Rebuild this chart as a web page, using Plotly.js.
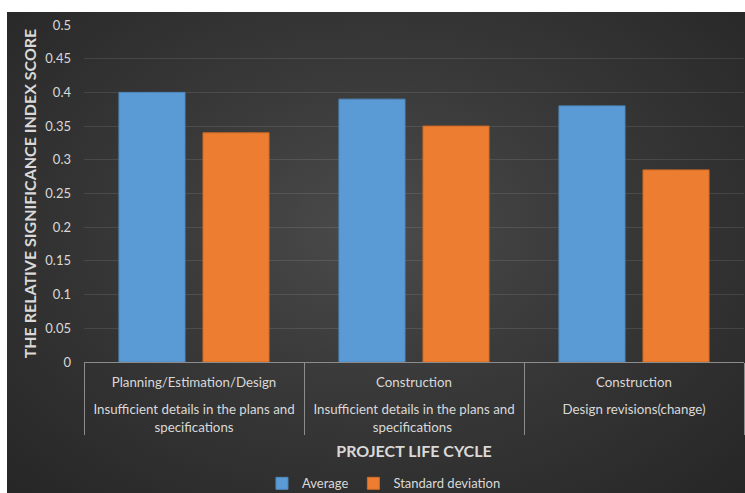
<!DOCTYPE html>
<html>
<head>
<meta charset="utf-8">
<script src="https://cdn.plot.ly/plotly-3.0.1.min.js"></script>
<style>
  html, body { margin: 0; padding: 0; background: #ffffff; width: 745px; height: 493px; overflow: hidden; }
  #chart {
    position: absolute; left: 7px; top: 12px; width: 738px; height: 481px;
    background: radial-gradient(ellipse at 50% 45%, #4b4b4b 0%, #3a3a3a 40%, #262626 100%);
  }
</style>
</head>
<body>
<div id="chart"></div>
<script>
// Data
const phases = ["Planning/Estimation/Design", "Construction", "Construction"];
const factors = [
  "<br>Insufficient details in the plans and<br>specifications",
  "<br>Insufficient details in the plans and<br>specifications ",
  "<br>Design revisions(change)<br> "
];
const averageValues = [0.40, 0.39, 0.38];
const stdDevValues = [0.34, 0.35, 0.285];
const seriesNames = ["Average", "Standard deviation"];
const yTicks = [0, 0.05, 0.1, 0.15, 0.2, 0.25, 0.3, 0.35, 0.4, 0.45, 0.5];
const yTickLabels = ["0", "0.05", "0.1", "0.15", "0.2", "0.25", "0.3", "0.35", "0.4", "0.45", "0.5"];

const textColor = "#d9d9d9";
const font = "Lato, 'Open Sans', sans-serif";

const traces = [
  {
    type: "bar", name: seriesNames[0],
    x: [factors, phases], y: averageValues,
    marker: { color: "#5b9bd5", line: { color: "#4f88bd", width: 1 } },
    hoverinfo: "none"
  },
  {
    type: "bar", name: seriesNames[1],
    x: [factors, phases], y: stdDevValues,
    marker: { color: "#ed7d31", line: { color: "#d06a25", width: 1 } },
    hoverinfo: "none"
  }
];

const layout = {
  width: 738, height: 481,
  paper_bgcolor: "rgba(0,0,0,0)",
  plot_bgcolor: "rgba(0,0,0,0)",
  margin: { l: 77, r: 1, t: 13, b: 131 },
  barmode: "group",
  bargap: 0.236,
  bargroupgap: 0.214,
  font: { family: font, color: textColor, size: 12 },
  xaxis: {
    type: "multicategory",
    automargin: false,
    showline: true, linecolor: "#8c8c8c", linewidth: 1,
    showgrid: false, zeroline: false,
    showdividers: true, dividercolor: "#8c8c8c", dividerwidth: 1,
    tickfont: { family: font, size: 13.3, color: textColor },
    ticks: "",
    ticklabelstandoff: 8,
    title: { text: "PROJECT LIFE CYCLE", font: { family: font, size: 16, color: textColor, weight: "bold" }, standoff: 12 }
  },
  yaxis: {
    range: [0, 0.5],
    automargin: false,
    tickvals: yTicks, ticktext: yTickLabels,
    showgrid: true, gridcolor: "rgba(255,255,255,0.1)", gridwidth: 1,
    zeroline: false, showline: false,
    tickfont: { family: font, size: 13, color: textColor },
    ticks: "", ticklen: 0,
    ticklabelstandoff: 12,
    title: { text: "THE RELATIVE SIGNIFICANCE INDEX SCORE", font: { family: font, size: 16, color: textColor, weight: "bold" }, standoff: 4 }
  },
  legend: {
    orientation: "h", x: 0.4545, xanchor: "center",
    yref: "container", y: 0.02, yanchor: "middle",
    font: { family: font, size: 13, color: textColor },
    bgcolor: "rgba(0,0,0,0)", itemwidth: 30, traceorder: "normal"
  },
  showlegend: true
};

Plotly.newPlot("chart", traces, layout, { displayModeBar: false, staticPlot: true });
</script>
</body>
</html>
